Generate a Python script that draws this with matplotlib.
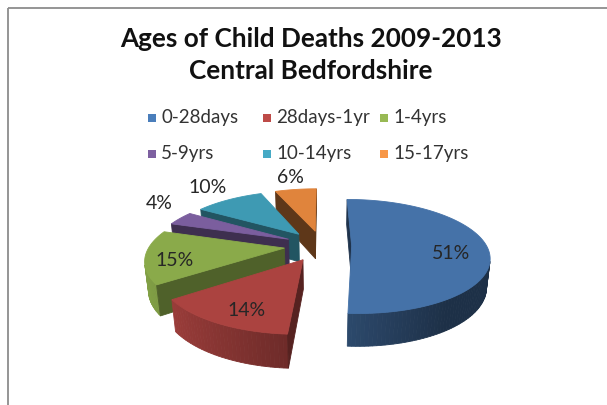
import numpy as np
import matplotlib
matplotlib.use("Agg")
import matplotlib.pyplot as plt
from matplotlib.patches import Polygon, Rectangle
from matplotlib.colors import to_rgb

# ---------------- data ----------------
categories = ["0-28days", "28days-1yr", "1-4yrs", "5-9yrs", "10-14yrs", "15-17yrs"]
values = [51, 14, 15, 4, 10, 6]
pct_labels = ["51%", "14%", "15%", "4%", "10%", "6%"]
title_lines = ["Ages of Child Deaths 2009-2013", "Central Bedfordshire"]

# ---------------- style ----------------
top_colors = ["#4572a8", "#ab4340", "#8aaa4a", "#7b5e9e", "#3e9ab3", "#e0843c"]
legend_colors = ["#4a7ebb", "#be4b48", "#98b954", "#7d60a0", "#46aac5", "#f79646"]
explode = [0.22, 0.28, 0.28, 0.28, 0.28, 0.28]
label_r = [0.74, 0.70, 0.80, 1.20, 1.35, 1.35]
label_lift = [-0.05, -0.06, -0.04, 0.10, 0.02, 0.0]
radial_shade = [0.45, 0.5, 0.57, 0.5, 0.55, 0.42]

FONT = ["Lato", "DejaVu Sans"]

# projection parameters (pixel space)
S, X0, Y0 = 132.0, 322.0, 274.0
elev = np.radians(26.5)
D = 5.0
H = 0.235
ce, se = np.cos(elev), np.sin(elev)
cam = np.array([0.0, D * se, -D * ce])


def proj(X, Y, Z):
    X = np.asarray(X, float); Y = np.asarray(Y, float); Z = np.asarray(Z, float)
    v = Y * ce + Z * se
    w = Z * ce - Y * se
    s = D / (D + w)
    return X0 + S * X * s, Y0 - S * v * s


def depth(X, Y, Z):
    return Z * ce - Y * se


def shade(c, f):
    r, g, b = to_rgb(c)
    return (min(1, r * f), min(1, g * f), min(1, b * f))


W, Hh = 607, 405
fig = plt.figure(figsize=(W / 100, Hh / 100), dpi=100)
ax = fig.add_axes([0, 0, 1, 1])
ax.set_xlim(0, W)
ax.set_ylim(Hh, 0)
ax.axis("off")

# frame
ax.plot([8, W], [8, 8], color="#8c8c8c", lw=1.3, solid_capstyle="butt")
ax.plot([8, 8], [8, Hh], color="#8c8c8c", lw=1.3, solid_capstyle="butt")

# ---------------- 3D pie ----------------
total = float(sum(values))
slices = []
start = 90.0
for i, v in enumerate(values):
    a2 = np.radians(start)
    a1 = np.radians(start - v / total * 360.0)
    start -= v / total * 360.0
    m = 0.5 * (a1 + a2)
    ox, oz = explode[i] * np.cos(m), explode[i] * np.sin(m)
    dep = depth(ox + 0.5 * np.cos(m), H, oz + 0.5 * np.sin(m))
    slices.append((dep, i, a1, a2, m, ox, oz))

slices.sort(key=lambda t: -t[0])

label_pos = {}
for dep, i, a1, a2, m, ox, oz in slices:
    col = top_colors[i]
    # outer curved side
    n = max(4, int(np.degrees(a2 - a1) / 1.5))
    ts = np.linspace(a1, a2, n + 1)
    for t0, t1 in zip(ts[:-1], ts[1:]):
        tm = 0.5 * (t0 + t1)
        nrm = np.array([np.cos(tm), 0, np.sin(tm)])
        P = np.array([ox + np.cos(tm), H / 2, oz + np.sin(tm)])
        if np.dot(nrm, cam - P) <= 0:
            continue
        xs, ys = proj([ox + np.cos(t0), ox + np.cos(t1), ox + np.cos(t1), ox + np.cos(t0)],
                      [0, 0, H, H],
                      [oz + np.sin(t0), oz + np.sin(t1), oz + np.sin(t1), oz + np.sin(t0)])
        f = max(0.42, 0.62 - 0.35 * np.cos(tm))
        c = shade(col, f)
        ax.add_patch(Polygon(np.c_[xs, ys], closed=True, facecolor=c, edgecolor=c, lw=0.6))
    # radial faces
    for a, nrm in ((a1, np.array([np.sin(a1), 0, -np.cos(a1)])),
                   (a2, np.array([-np.sin(a2), 0, np.cos(a2)]))):
        P = np.array([ox + 0.5 * np.cos(a), H / 2, oz + 0.5 * np.sin(a)])
        if np.dot(nrm, cam - P) <= 0:
            continue
        xs, ys = proj([ox, ox, ox + np.cos(a), ox + np.cos(a)],
                      [0, H, H, 0],
                      [oz, oz, oz + np.sin(a), oz + np.sin(a)])
        c = shade(col, radial_shade[i])
        ax.add_patch(Polygon(np.c_[xs, ys], closed=True, facecolor=c, edgecolor=c, lw=0.6))
    # top face
    ta = np.linspace(a1, a2, 120)
    X = np.r_[ox, ox + np.cos(ta)]
    Z = np.r_[oz, oz + np.sin(ta)]
    xs, ys = proj(X, np.full_like(X, H), Z)
    ax.add_patch(Polygon(np.c_[xs, ys], closed=True, facecolor=col, edgecolor=col, lw=0.6))
    lx, ly = proj(ox + label_r[i] * np.cos(m), H + label_lift[i], oz + label_r[i] * np.sin(m))
    label_pos[i] = (float(lx), float(ly))

for i, txt in enumerate(pct_labels):
    x, y = label_pos[i]
    ax.text(x, y, txt, ha="center", va="center", fontsize=14, color="#262626", family=FONT)

# ---------------- title ----------------
ax.text(311, 47, title_lines[0], ha="center", va="baseline", fontsize=18.8,
        fontweight="bold", color="#111111", family=FONT)
ax.text(311, 79, title_lines[1], ha="center", va="baseline", fontsize=18.8,
        fontweight="bold", color="#111111", family=FONT)

# ---------------- legend ----------------
leg_x = [148, 263, 380]
leg_y = [118, 154]
for i, name in enumerate(categories):
    x = leg_x[i % 3]
    y = leg_y[i // 3]
    ax.add_patch(Rectangle((x, y - 4), 8, 8, facecolor=legend_colors[i], edgecolor="none"))
    ax.text(x + 13, y, name, ha="left", va="center", fontsize=13.5, color="#333333", family=FONT)

fig.savefig("out.png", dpi=100)
